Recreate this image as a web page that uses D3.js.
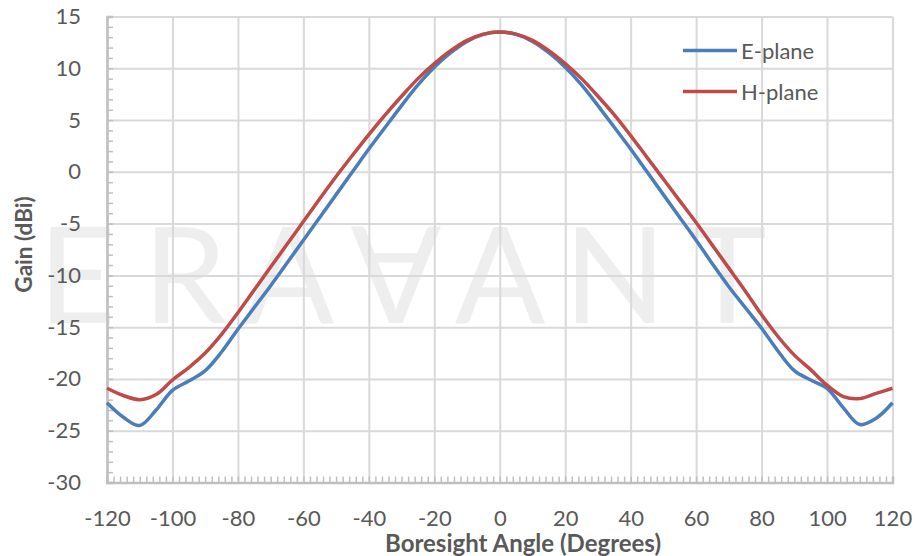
<!DOCTYPE html>
<html>
<head>
<meta charset="utf-8">
<script src="https://cdn.jsdelivr.net/npm/d3@7"></script>
<style>
  html, body { margin: 0; padding: 0; background: #ffffff; }
  svg { display: block; }
  text { font-family: Lato, "Open Sans", "Liberation Sans", sans-serif; }
</style>
</head>
<body>
<svg id="chart" width="915" height="556"></svg>
<script>
// Boresight angle (degrees) at which gain was sampled
const angles = [-120, -115, -110, -105, -100, -95, -90, -85, -80, -75, -70, -65, -60,
                -55, -50, -45, -40, -35, -30, -25, -20, -15, -10, -5, 0,
                5, 10, 15, 20, 25, 30, 35, 40, 45, 50, 55, 60,
                65, 70, 75, 80, 85, 90, 95, 100, 105, 110, 115, 120];

// Gain (dBi), E-plane cut
const ePlane = [-22.3, -23.7, -24.5, -23.0, -21.1, -20.2, -19.2, -17.4, -15.2, -13.1, -11.0, -8.8, -6.6,
                -4.4, -2.2, 0.0, 2.2, 4.3, 6.4, 8.4, 10.1, 11.5, 12.6, 13.28, 13.5,
                13.28, 12.6, 11.5, 10.1, 8.4, 6.4, 4.3, 2.2, 0.0, -2.2, -4.4, -6.6,
                -8.9, -11.1, -13.1, -15.1, -17.3, -19.2, -20.1, -20.9, -22.8, -24.4, -23.8, -22.3];

// Gain (dBi), H-plane cut
const hPlane = [-20.9, -21.6, -22.0, -21.5, -20.1, -18.9, -17.5, -15.7, -13.6, -11.4, -9.2, -7.0, -4.8,
                -2.6, -0.45, 1.6, 3.6, 5.5, 7.3, 9.0, 10.45, 11.7, 12.7, 13.3, 13.5,
                13.3, 12.7, 11.7, 10.45, 9.0, 7.3, 5.5, 3.5, 1.4, -0.7, -2.8, -4.9,
                -7.1, -9.3, -11.5, -13.8, -15.9, -17.7, -19.1, -20.6, -21.7, -21.9, -21.4, -20.9];

const seriesNames = ["E-plane", "H-plane"];
const seriesColors = ["#4a7ebb", "#be4b48"];

const xTicks = [-120, -100, -80, -60, -40, -20, 0, 20, 40, 60, 80, 100, 120];
const yTicks = [-30, -25, -20, -15, -10, -5, 0, 5, 10, 15];

const xTitle = "Boresight Angle (Degrees)";
const yTitle = "Gain (dBi)";
const watermark = ["E", "R", "A", "V", "A", "N", "T"];

const svg = d3.select("#chart");
const plot = { left: 107, right: 892.5, top: 16.5, bottom: 482.5 };

const x = d3.scaleLinear().domain([-120, 120]).range([plot.left, plot.right]);
const y = d3.scaleLinear().domain([-30, 15]).range([plot.bottom, plot.top]);
const fmt = d => String(d);   // plain hyphen-minus, e.g. "-120"

// Faint company watermark behind the chart
const wm = svg.append("g").attr("fill", "#eeeeee").attr("font-size", 134)
  .attr("font-weight", 400).attr("text-anchor", "middle");
const wmCenters = [77, 185, 289, 396, 500, 615, 727];
const wmBase = 323;
watermark.forEach((ch, i) => {
  if (ch === "V") {
    // stylised V: an upside-down A
    wm.append("text").attr("x", wmCenters[i]).attr("y", wmBase)
      .attr("transform", `rotate(180, ${wmCenters[i]}, ${wmBase - 48})`)
      .text("A");
  } else {
    wm.append("text").attr("x", wmCenters[i]).attr("y", wmBase).text(ch);
  }
});

// Gridlines
const gridColor = "#d9d9d9";
svg.append("g")
  .attr("transform", `translate(0,${plot.bottom})`)
  .call(d3.axisBottom(x).tickValues(xTicks).tickSize(-(plot.bottom - plot.top)).tickFormat(""))
  .call(g => g.select(".domain").remove())
  .call(g => g.selectAll("line").attr("stroke", gridColor).attr("stroke-width", 2));
svg.append("g")
  .attr("transform", `translate(${plot.left},0)`)
  .call(d3.axisLeft(y).tickValues(yTicks).tickSize(-(plot.right - plot.left)).tickFormat(""))
  .call(g => g.select(".domain").remove())
  .call(g => g.selectAll("line").attr("stroke", gridColor).attr("stroke-width", 2));

// Minor tick marks (inside the plot)
const axisColor = "#bfbfbf";
const xMinor = d3.range(-120, 120.1, 2);
const yMinor = d3.range(-30, 15.1, 1);
svg.append("g")
  .attr("transform", `translate(0,${plot.bottom})`)
  .call(d3.axisBottom(x).tickValues(xMinor).tickSize(-6).tickFormat(""))
  .call(g => g.select(".domain").attr("stroke", axisColor).attr("stroke-width", 2.5))
  .call(g => g.selectAll(".tick line").attr("stroke", axisColor).attr("stroke-width", 1.5));
svg.append("g")
  .attr("transform", `translate(${plot.left},0)`)
  .call(d3.axisLeft(y).tickValues(yMinor).tickSize(-6).tickFormat(""))
  .call(g => g.select(".domain").attr("stroke", axisColor).attr("stroke-width", 2.5))
  .call(g => g.selectAll(".tick line").attr("stroke", axisColor).attr("stroke-width", 1.5));

// Tick labels
const labelColor = "#595959";
svg.append("g")
  .attr("transform", `translate(0,${plot.bottom})`)
  .call(d3.axisBottom(x).tickValues(xTicks).tickSize(0).tickPadding(28).tickFormat(fmt))
  .call(g => g.select(".domain").remove())
  .call(g => g.selectAll("text").attr("fill", labelColor).attr("font-size", 22)
    .attr("font-family", "Lato, 'Open Sans', sans-serif"));
svg.append("g")
  .attr("transform", `translate(${plot.left},0)`)
  .call(d3.axisLeft(y).tickValues(yTicks).tickSize(0).tickPadding(26).tickFormat(fmt))
  .call(g => g.select(".domain").remove())
  .call(g => g.selectAll("text").attr("fill", labelColor).attr("font-size", 22)
    .attr("font-family", "Lato, 'Open Sans', sans-serif"));

// Axis titles
svg.append("text")
  .attr("x", 523).attr("y", 552)
  .attr("text-anchor", "middle").attr("font-size", 24).attr("font-weight", 700)
  .attr("fill", labelColor).text(xTitle);
svg.append("text")
  .attr("transform", `translate(32,${244.5}) rotate(-90)`)
  .attr("text-anchor", "middle").attr("font-size", 22.5).attr("font-weight", 700)
  .attr("fill", labelColor).text(yTitle);

// Gain curves
const series = [ePlane, hPlane];
const line = d3.line()
  .x((d, i) => x(angles[i]))
  .y(d => y(d))
  .curve(d3.curveCatmullRom.alpha(0.5));
series.forEach((vals, k) => {
  svg.append("path")
    .datum(vals)
    .attr("fill", "none")
    .attr("stroke", seriesColors[k])
    .attr("stroke-width", 3.5)
    .attr("stroke-linejoin", "round")
    .attr("d", line);
});

// Legend
const legend = svg.append("g");
seriesNames.forEach((name, k) => {
  const ly = 50.5 + k * 41;
  legend.append("line")
    .attr("x1", 683).attr("x2", 737).attr("y1", ly).attr("y2", ly)
    .attr("stroke", seriesColors[k]).attr("stroke-width", 3.5);
  legend.append("text")
    .attr("x", 741).attr("y", ly + 8)
    .attr("font-size", 22).attr("fill", labelColor).text(name);
});
</script>
</body>
</html>
